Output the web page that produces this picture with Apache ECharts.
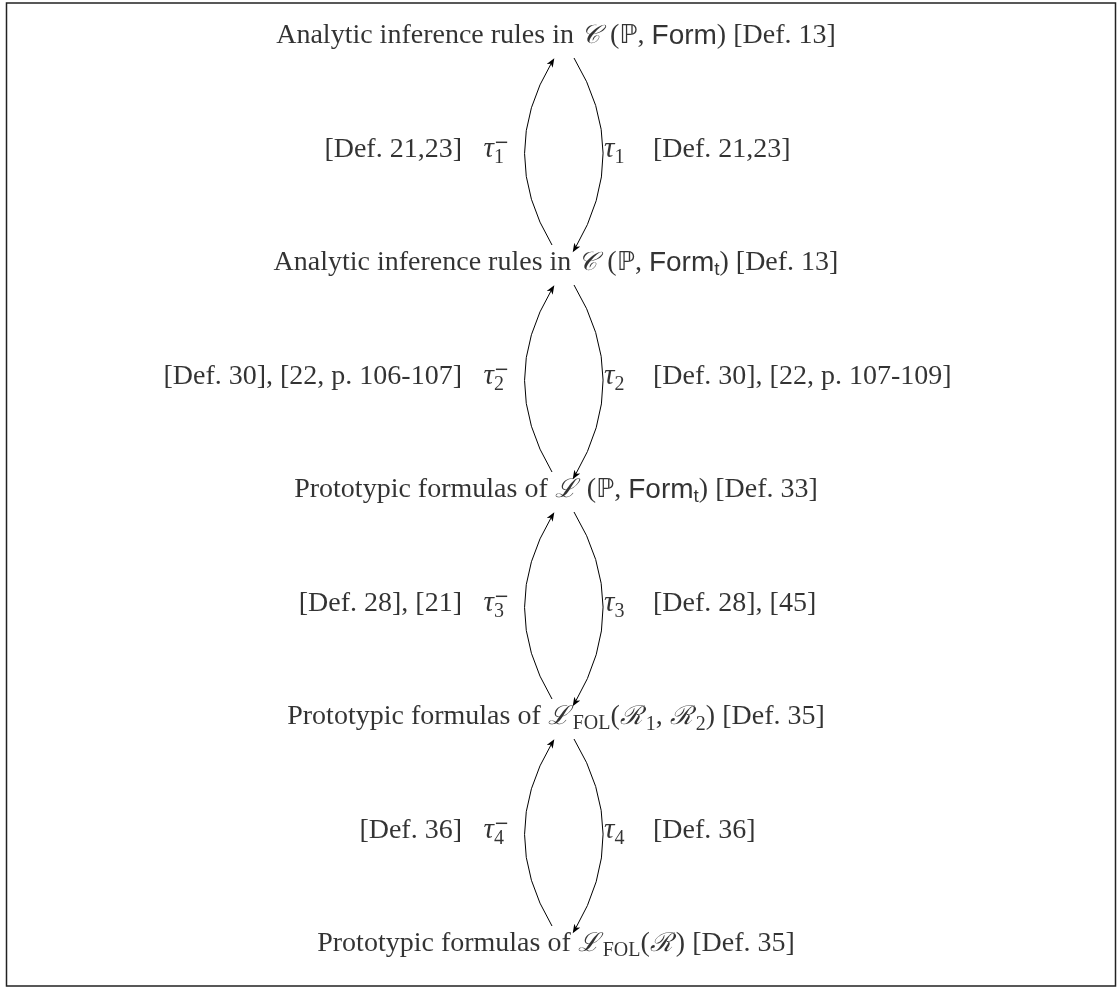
<!DOCTYPE html>
<html><head><meta charset="utf-8">
<script src="https://cdn.jsdelivr.net/npm/echarts@6/dist/echarts.min.js"></script>
<style>html,body{margin:0;padding:0;background:#fff}#c{width:1117px;height:988px}</style>
</head><body><div id="c"></div>
<script>
// ---- data ----
const nodeLevels = [0, 1, 2, 3, 4];
const nodeTexts = [
  'Analytic inference rules in {cal|𝒞} ({bb|ℙ}, {sf|Form}) [Def. 13]',
  'Analytic inference rules in {cal|𝒞} ({bb|ℙ}, {sf|Form}{sfsub|t}) [Def. 13]',
  'Prototypic formulas of {cal|ℒ} ({bb|ℙ}, {sf|Form}{sfsub|t}) [Def. 33]',
  'Prototypic formulas of {cal|ℒ}{rsub|FOL}({cal|ℛ}{sub|1}, {cal|ℛ}{sub|2}) [Def. 35]',
  'Prototypic formulas of {cal|ℒ}{rsub|FOL}({cal|ℛ}) [Def. 35]'
];
const tauIndex = ['1', '2', '3', '4'];
const leftRefs = ['[Def. 21,23]', '[Def. 30], [22, p. 106-107]', '[Def. 28], [21]', '[Def. 36]'];
const rightRefs = ['[Def. 21,23]', '[Def. 30], [22, p. 107-109]', '[Def. 28], [45]', '[Def. 36]'];

// ---- layout constants (pixels / level units) ----
const PX = 1 / 227;          // one pixel in level units
const CX = 556;
const LEFT_REF_X = 462, LEFT_TAU_X = 509, RIGHT_TAU_X = 604, RIGHT_REF_X = 653;
const ARC_L_X = 552, ARC_R_X = 574;

const rich = {
  cal: { fontFamily: 'DejaVu Serif', fontSize: 26, fontStyle: 'italic', color: '#000', padding: [0, 3, 0, 0] },
  bb: { fontFamily: 'DejaVu Sans', fontSize: 26, color: '#000' },
  sf: { fontFamily: 'Liberation Sans', fontSize: 28, color: '#000' },
  sfsub: { fontFamily: 'Liberation Sans', fontSize: 19, padding: [14, 0, 0, 0], color: '#000' },
  rsub: { fontFamily: 'Liberation Serif', fontSize: 20, padding: [14, 0, 0, 0], color: '#000' },
  sub: { fontFamily: 'Liberation Serif', fontSize: 20, padding: [16, 0, 0, 0], color: '#000' },
  tau: { fontFamily: 'Liberation Serif', fontSize: 29, fontStyle: 'italic', color: '#000' },
  sup: { fontFamily: 'DejaVu Sans', fontSize: 18, padding: [0, 0, 12, -10], color: '#000' }
};
const baseLabel = {
  show: true, position: 'inside', verticalAlign: 'middle',
  fontFamily: 'Liberation Serif', fontSize: 28, color: '#000', rich: rich
};

const nodeData = nodeLevels.map((lv, i) => ({ value: [CX, lv], txt: nodeTexts[i] }));
const labelData = [];
tauIndex.forEach((k, i) => {
  const y = i + 0.5;
  labelData.push({ value: [LEFT_REF_X, y], txt: leftRefs[i], label: { align: 'right' } });
  labelData.push({ value: [LEFT_TAU_X, y], txt: '{tau|τ}{sub|' + k + '}{sup|−}', label: { align: 'right' } });
  labelData.push({ value: [RIGHT_TAU_X, y], txt: '{tau|τ}{sub|' + k + '}', label: { align: 'left' } });
  labelData.push({ value: [RIGHT_REF_X, y], txt: rightRefs[i], label: { align: 'left' } });
});

const edgeData = [];
for (let i = 0; i < nodeLevels.length - 1; i++) {
  // inverse map tau_k^- (upwards, left)
  edgeData.push({ coords: [[ARC_L_X, nodeLevels[i + 1] - 18 * PX], [ARC_L_X, nodeLevels[i] + 26 * PX]] });
  // forward map tau_k (downwards, right)
  edgeData.push({ coords: [[ARC_R_X, nodeLevels[i] + 22 * PX], [ARC_R_X + 1, nodeLevels[i + 1] - 14.5 * PX]] });
}

const chart = echarts.init(document.getElementById('c'), null, { renderer: 'canvas' });
chart.setOption({
  animation: false,
  backgroundColor: '#fff',
  grid: { left: 6.5, top: 3, right: 1.5, bottom: 2, show: true, borderColor: '#222', borderWidth: 1.5, backgroundColor: 'transparent' },
  xAxis: { type: 'value', min: 6.5, max: 1115.5, show: false },
  yAxis: { type: 'value', inverse: true, min: -33 * PX, max: 950 * PX, show: false },
  series: [
    {
      type: 'lines', coordinateSystem: 'cartesian2d', silent: true,
      symbol: ['none', 'path://M3.5,0 L7,9 L3.5,6.6 L0,9 Z'], symbolSize: [0, [7, 9]],
      lineStyle: { color: '#000', width: 1, curveness: 0.3, opacity: 1 },
      itemStyle: { color: '#000' },
      data: edgeData
    },
    {
      type: 'scatter', symbolSize: 0, silent: true,
      label: Object.assign({}, baseLabel, { align: 'center', formatter: p => p.data.txt }),
      data: nodeData
    },
    {
      type: 'scatter', symbolSize: 0, silent: true,
      label: Object.assign({}, baseLabel, { formatter: p => p.data.txt }),
      data: labelData
    }
  ]
});
</script></body></html>
